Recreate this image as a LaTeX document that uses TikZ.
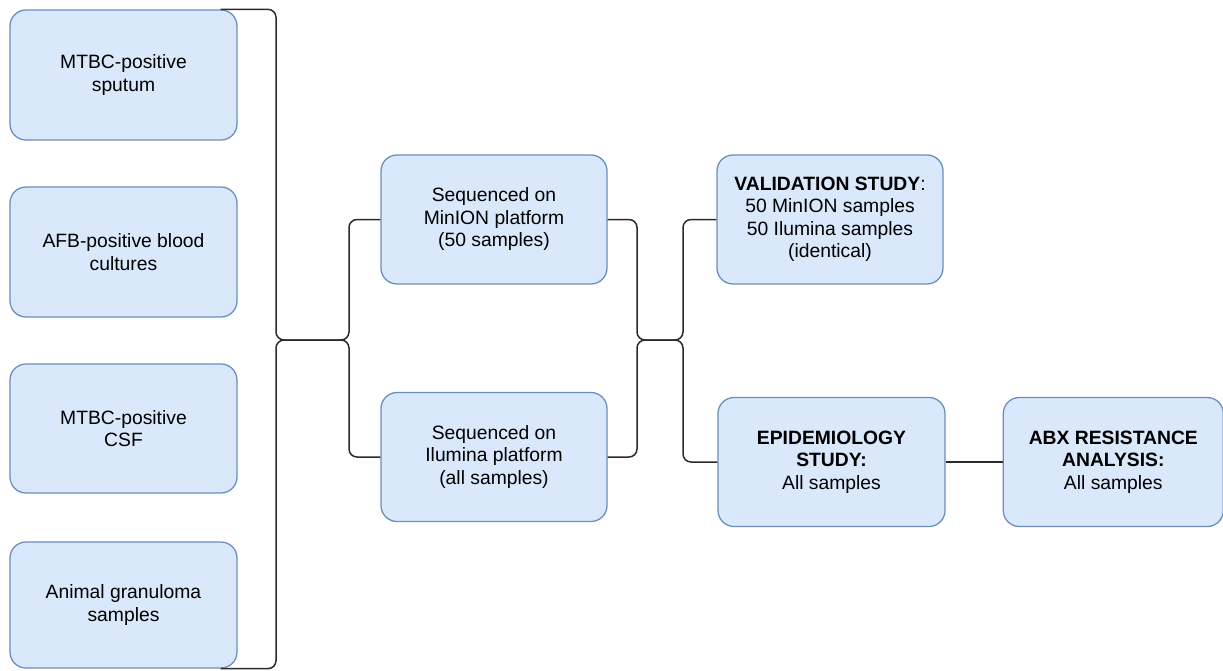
\documentclass[tikz,border=0pt]{standalone}
\usepackage{fontspec}
\setmainfont{Liberation Sans}
\usetikzlibrary{positioning}
\definecolor{boxfill}{HTML}{DAE8FC}
\definecolor{boxline}{HTML}{6C8EBF}
\definecolor{wire}{HTML}{2B2B2B}
\tikzset{box/.style={draw=boxline, fill=boxfill, line width=1.3pt, rounded corners=16pt,
           minimum width=227pt, minimum height=129pt, align=center,
           inner sep=2pt, font=\fontsize{19.3}{22.5}\selectfont},
         link/.style={draw=wire, line width=1.5pt, rounded corners=8pt}}

\begin{document}
\begin{tikzpicture}[x=1pt, y=-1pt]
	  \useasboundingbox (0,0) rectangle (1223,670);
	  % samples
	  \node[box, minimum height=130pt] (sputum) at (123.5,75) {MTBC-positive\\sputum};
	  \node[box, minimum height=130pt] (blood) at (123.5,252) {AFB-positive blood\\cultures};
	  \node[box] (csf) at (123.5,428.5) {MTBC-positive\\CSF};
	  \node[box, minimum height=126pt] (granuloma) at (123.5,605) {Animal granuloma\\samples};
	  % platforms
	  \node[box, minimum width=226pt] (minion) at (494,219.5) {Sequenced on\\MinION platform\\(50 samples)};
	  \node[box, minimum width=226pt] (illumina) at (494,457) {Sequenced on\\Ilumina platform\\(all samples)};
	  % studies
	  \node[box, minimum width=226pt] (validation) at (830,219.5)
	    {\textbf{VALIDATION STUDY}:\\50 MinION samples\\50 Ilumina samples\\(identical)};
	  \node[box] (epidemiology) at (831.5,462) {\textbf{EPIDEMIOLOGY}\\\textbf{STUDY:}\\All samples};
	  \node[box, minimum width=220pt, right=57pt of epidemiology] (abx)
	    {\textbf{ABX RESISTANCE}\\\textbf{ANALYSIS:}\\All samples};
	  % junctions
	  \coordinate (lbus) at (276,340);
	  \coordinate (rbus) at (349,340);
	  \coordinate (mbus) at (637,340);
	  \coordinate (nbus) at (683,340);
	  \draw[link] ([xshift=-17pt]sputum.north east) -| (lbus) -- (rbus) |- (minion);
	  \draw[link] ([xshift=-17pt]granuloma.south east) -| (lbus) -- (rbus) |- (illumina);
	  \draw[link] (minion.east) -| (mbus) -- (nbus) |- (validation);
	  \draw[link] (illumina.east) -| (mbus) -- (nbus) |- (epidemiology);
	  \draw[link] (epidemiology) -- (abx);
	\end{tikzpicture}
\end{document}
